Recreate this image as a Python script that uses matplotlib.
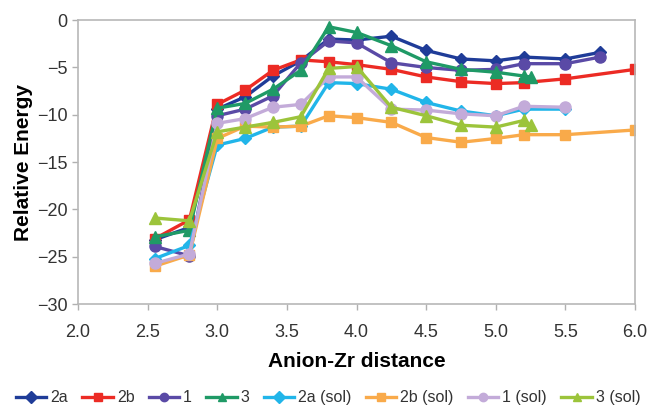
import matplotlib

matplotlib.use("Agg")
import matplotlib.pyplot as plt

plt.rcParams["font.family"] = ["Liberation Sans", "DejaVu Sans"]

# Anion-Zr distance grid
x_main = [2.55, 2.8, 3.0, 3.2, 3.4, 3.6, 3.8, 4.0, 4.25, 4.5, 4.75, 5.0, 5.2, 5.5, 5.75]
x_2b = [2.55, 2.8, 3.0, 3.2, 3.4, 3.6, 3.8, 4.0, 4.25, 4.5, 4.75, 5.0, 5.2, 5.5, 6.0]
x_3 = [2.55, 2.8, 3.0, 3.2, 3.4, 3.6, 3.8, 4.0, 4.25, 4.5, 4.75, 5.0, 5.2, 5.25]
x_sol = [2.55, 2.8, 3.0, 3.2, 3.4, 3.6, 3.8, 4.0, 4.25, 4.5, 4.75, 5.0, 5.2, 5.5]

e_2a = [-23.2, -21.9, -9.4, -8.1, -5.9, -4.3, -2.0, -2.1, -1.7, -3.2, -4.1, -4.3, -3.9, -4.1, -3.4]
e_2b = [-23.1, -21.1, -8.9, -7.4, -5.3, -4.2, -4.4, -4.7, -5.2, -6.0, -6.5, -6.7, -6.6, -6.2, -5.2]
e_1 = [-23.9, -24.9, -10.1, -9.4, -8.0, -4.5, -2.2, -2.4, -4.5, -5.0, -5.3, -5.2, -4.6, -4.6, -3.9]
e_3 = [-22.9, -22.2, -9.3, -8.8, -7.3, -5.3, -0.7, -1.3, -2.7, -4.4, -5.2, -5.5, -5.9, -6.0]
e_2a_sol = [-25.2, -23.8, -13.2, -12.5, -11.3, -11.2, -6.6, -6.7, -7.3, -8.7, -9.6, -10.1, -9.4, -9.4]
e_2b_sol = [-26.0, -24.8, -12.5, -11.2, -11.3, -11.2, -10.1, -10.3, -10.8, -12.4, -12.9, -12.5, -12.1, -12.1, -11.6]
e_1_sol = [-25.7, -24.7, -10.9, -10.4, -9.2, -8.9, -6.0, -6.0, -9.4, -9.5, -9.9, -10.1, -9.1, -9.2]
e_3_sol = [-20.9, -21.2, -11.8, -11.3, -10.8, -10.2, -5.1, -4.9, -9.2, -10.1, -11.1, -11.3, -10.6, -11.1]

SERIES = [
    ("2a", x_main, e_2a, "#1f3c98", "D", 6),
    ("2b", x_2b, e_2b, "#ec2b24", "s", 7.5),
    ("1", x_main, e_1, "#5a4aa6", "o", 8),
    ("3", x_3, e_3, "#1f9a66", "^", 8),
    ("2a (sol)", x_sol, e_2a_sol, "#21b5e9", "D", 6),
    ("2b (sol)", x_2b, e_2b_sol, "#f9aa4a", "s", 7.5),
    ("1 (sol)", x_sol, e_1_sol, "#c3abd9", "o", 8),
    ("3 (sol)", x_3, e_3_sol, "#9cc43b", "^", 8),
]

fig = plt.figure(figsize=(6.5, 4.11), dpi=100)
ax = fig.add_axes((0.12, 0.26, 0.857, 0.691))

for label, xs, ys, color, marker, ms in SERIES:
    ax.plot(xs, ys, color=color, marker=marker, markersize=ms, linewidth=2.4, label=label)

ax.set_xlim(2.0, 6.0)
ax.set_ylim(-30, 0)
ax.set_xticks([2.0, 2.5, 3.0, 3.5, 4.0, 4.5, 5.0, 5.5, 6.0])
ax.set_xticklabels([f"{v:.1f}" for v in ax.get_xticks()])
ax.set_yticks(range(-30, 1, 5))
ax.tick_params(colors="#b0b0b0", labelcolor="#333333", labelsize=13, length=4, width=1)
ax.tick_params(axis="x", pad=10)
for sp in ax.spines.values():
    sp.set_color("#b8b8b8")
    sp.set_linewidth(1.2)

ax.set_xlabel("Anion-Zr distance", fontsize=15, fontweight="bold", labelpad=8)
ax.set_ylabel("Relative Energy", fontsize=15, fontweight="bold", labelpad=3)

leg = fig.legend(
    loc="center",
    bbox_to_anchor=(0.505, 0.032),
    ncol=8,
    frameon=False,
    fontsize=11.5,
    handlelength=1.9,
    handletextpad=0.25,
    columnspacing=0.9,
    borderpad=0.1,
    labelcolor="#333333",
)
for h in leg.legend_handles:
    h.set_markersize(6)

fig.savefig("out.png", dpi=100)
